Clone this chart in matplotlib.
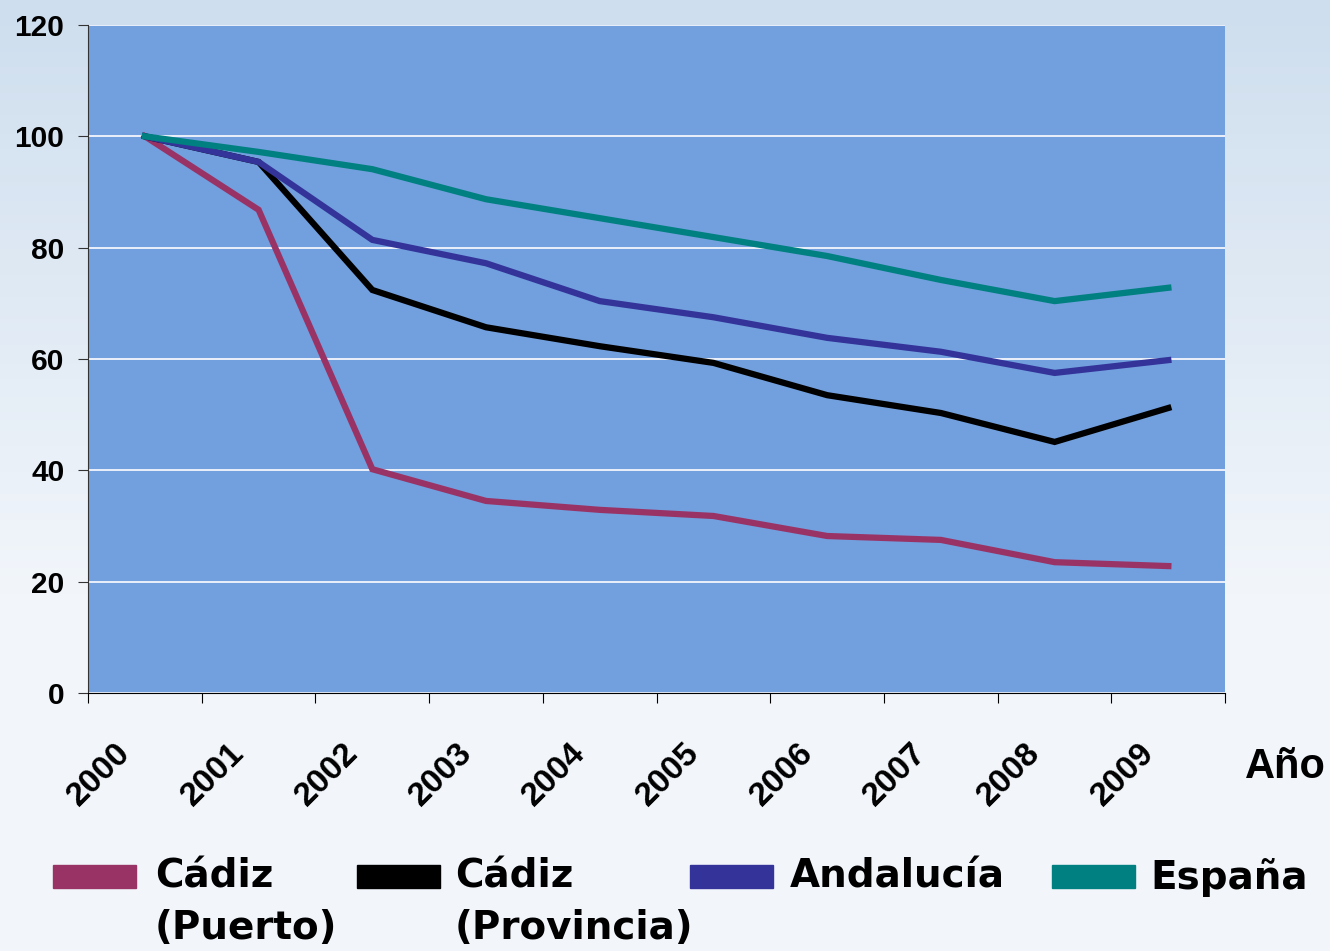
import numpy as np
import matplotlib
matplotlib.use('Agg')
import matplotlib.pyplot as plt
from matplotlib.patches import Rectangle
from matplotlib.transforms import ScaledTranslation

# datos (índice, 2000 = 100)
anios = ['2000', '2001', '2002', '2003', '2004', '2005', '2006', '2007', '2008', '2009']
cadiz_puerto = [100, 86.8, 40.2, 34.5, 32.9, 31.8, 28.2, 27.5, 23.5, 22.8]
cadiz_provincia = [100, 95.4, 72.4, 65.7, 62.3, 59.3, 53.5, 50.3, 45.1, 51.2]
andalucia = [100, 95.4, 81.4, 77.2, 70.4, 67.5, 63.8, 61.3, 57.5, 59.8]
espana = [100, 97.2, 94.1, 88.7, 85.3, 81.9, 78.5, 74.2, 70.4, 72.8]

series = [('Cádiz\n(Puerto)', cadiz_puerto, '#993366'),
          ('Cádiz\n(Provincia)', cadiz_provincia, '#000000'),
          ('Andalucía', andalucia, '#333399'),
          ('España', espana, '#008080')]

plt.rcParams['font.family'] = ['Liberation Sans', 'DejaVu Sans']
plt.rcParams['font.weight'] = 'bold'

fig = plt.figure(figsize=(13.3, 9.51), dpi=100)

# fondo degradado
bg = fig.add_axes([0, 0, 1, 1], zorder=-10)
grad = np.linspace(0, 1, 256).reshape(-1, 1)
top = np.array([0xCE, 0xDE, 0xEE]) / 255
bot = np.array([0xF2, 0xF6, 0xFB]) / 255
img = top + (bot - top) * np.clip(grad * 1.6, 0, 1)[:, :, None]
bg.imshow(img, aspect='auto', extent=[0, 1, 0, 1])
bg.axis('off')

ax = fig.add_axes([0.0662, 0.2713, 0.855, 0.7024])
ax.set_facecolor('#729FDD')
x = np.arange(len(anios))
for nombre, vals, color in series:
    ax.plot(x, vals, color=color, lw=4.5, solid_joinstyle='miter', zorder=3)

ax.set_xlim(-0.5, 9.5)
ax.set_ylim(0, 120)
ax.set_yticks(range(0, 121, 20))
ax.yaxis.grid(True, color='white', lw=1.2)
ax.set_axisbelow(True)
for s in ['top', 'right']:
    ax.spines[s].set_visible(False)
ax.spines['left'].set_color('#333333')
ax.spines['bottom'].set_color('#000000')
ax.tick_params(axis='y', length=7, pad=10, labelsize=21.5, color='#333333')

ax.set_xticks(np.arange(-0.5, 10, 1))
ax.set_xticklabels([])
ax.tick_params(axis='x', which='major', length=7, direction='out')
ax.set_xticks(x, minor=True)
ax.set_xticklabels(anios, minor=True, rotation=45, ha='right', fontsize=24)
ax.tick_params(axis='x', which='minor', length=0, pad=32)
off = ScaledTranslation(-8 / 100, 0, fig.dpi_scale_trans)
for lbl in ax.get_xticklabels(minor=True):
    lbl.set_transform(lbl.get_transform() + off)

fig.text(1245 / 1330, 1 - 767 / 951, 'Año', fontsize=30, fontweight='bold',
         ha='left', va='center')

# leyenda manual
patch_x = [53, 357, 690, 1052]
text_x = [155, 455, 790, 1150]
for (nombre, vals, color), px, tx in zip(series, patch_x, text_x):
    fig.patches.append(Rectangle((px / 1330, 1 - 888 / 951), 83 / 1330, 23 / 951,
                                 transform=fig.transFigure, color=color))
    fig.text(tx / 1330, 1 - 858 / 951, nombre, fontsize=28, fontweight='bold',
             family='DejaVu Sans', ha='left', va='top', linespacing=1.45)

fig.savefig('out.png', dpi=100)
